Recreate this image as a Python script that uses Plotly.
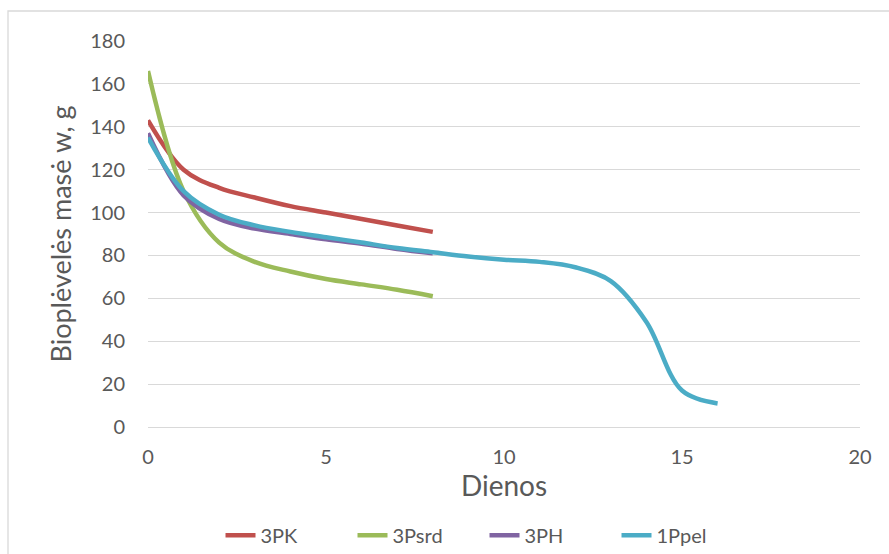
import plotly.graph_objects as go

days_8 = [0, 1, 2, 3, 4, 5, 6, 7, 8]
days_16 = [0, 1, 2, 3, 4, 5, 6, 7, 8, 9, 10, 11, 12, 13, 14, 15, 16]

pk = [143, 120, 111.5, 107, 103, 100, 97, 94, 91]
psrd = [166, 110, 86, 77, 72.5, 69, 66.5, 64, 61]
ph = [137, 108, 97, 92.5, 90, 87.5, 85.5, 83, 81]
ppel = [135, 110, 99, 94, 91, 88.5, 86, 83.5, 81.5, 79.5, 78, 77, 74.5, 68, 49, 17, 11]

series = [
    ("3PK", days_8, pk, "#C0504D"),
    ("3Psrd", days_8, psrd, "#9BBB59"),
    ("3PH", days_8, ph, "#8064A2"),
    ("1Ppel", days_16, ppel, "#4BACC6"),
]

fig = go.Figure()
for name, x, y, c in series:
    fig.add_trace(go.Scatter(
        x=x, y=y, name=name, mode="lines",
        line=dict(color=c, width=4.5, shape="spline", smoothing=1.0),
    ))

font = "Lato, Carlito, Liberation Sans, sans-serif"
fig.update_layout(
    width=889, height=554,
    margin=dict(l=148, r=29, t=41, b=127),
    paper_bgcolor="white", plot_bgcolor="white",
    font=dict(family=font, color="#595959", size=20),
    showlegend=True,
    legend=dict(orientation="h", xref="container", yref="container",
                x=0.545, xanchor="center", y=0.034, yanchor="middle",
                font=dict(size=20, color="#595959"), itemwidth=30,
                entrywidth=87, entrywidthmode="pixels"),
    xaxis=dict(range=[0, 20], tickvals=[0, 5, 10, 15, 20], showgrid=False,
               zeroline=False, showline=False, ticks="", ticklabelstandoff=16,
               title=dict(text="Dienos", font=dict(size=28, color="#595959"), standoff=8)),
    yaxis=dict(range=[0, 180], tickvals=list(range(0, 181, 20)), showgrid=True,
               gridcolor="#D9D9D9", gridwidth=1.3, zeroline=True, zerolinecolor="#D9D9D9",
               zerolinewidth=1.3, showline=False, ticks="", ticklabelstandoff=22,
               title=dict(text="Bioplėvelės masė w, g", font=dict(size=27, color="#595959"), standoff=10)),
    shapes=[dict(type="rect", xref="paper", yref="paper",
                 x0=(8 - 148) / 712, x1=(900 - 148) / 712,
                 y0=(427 - 560) / 386, y1=(427 - 11) / 386,
                 line=dict(color="#D9D9D9", width=1.3), fillcolor="rgba(0,0,0,0)", layer="below")],
)

fig.write_html("out.html")
